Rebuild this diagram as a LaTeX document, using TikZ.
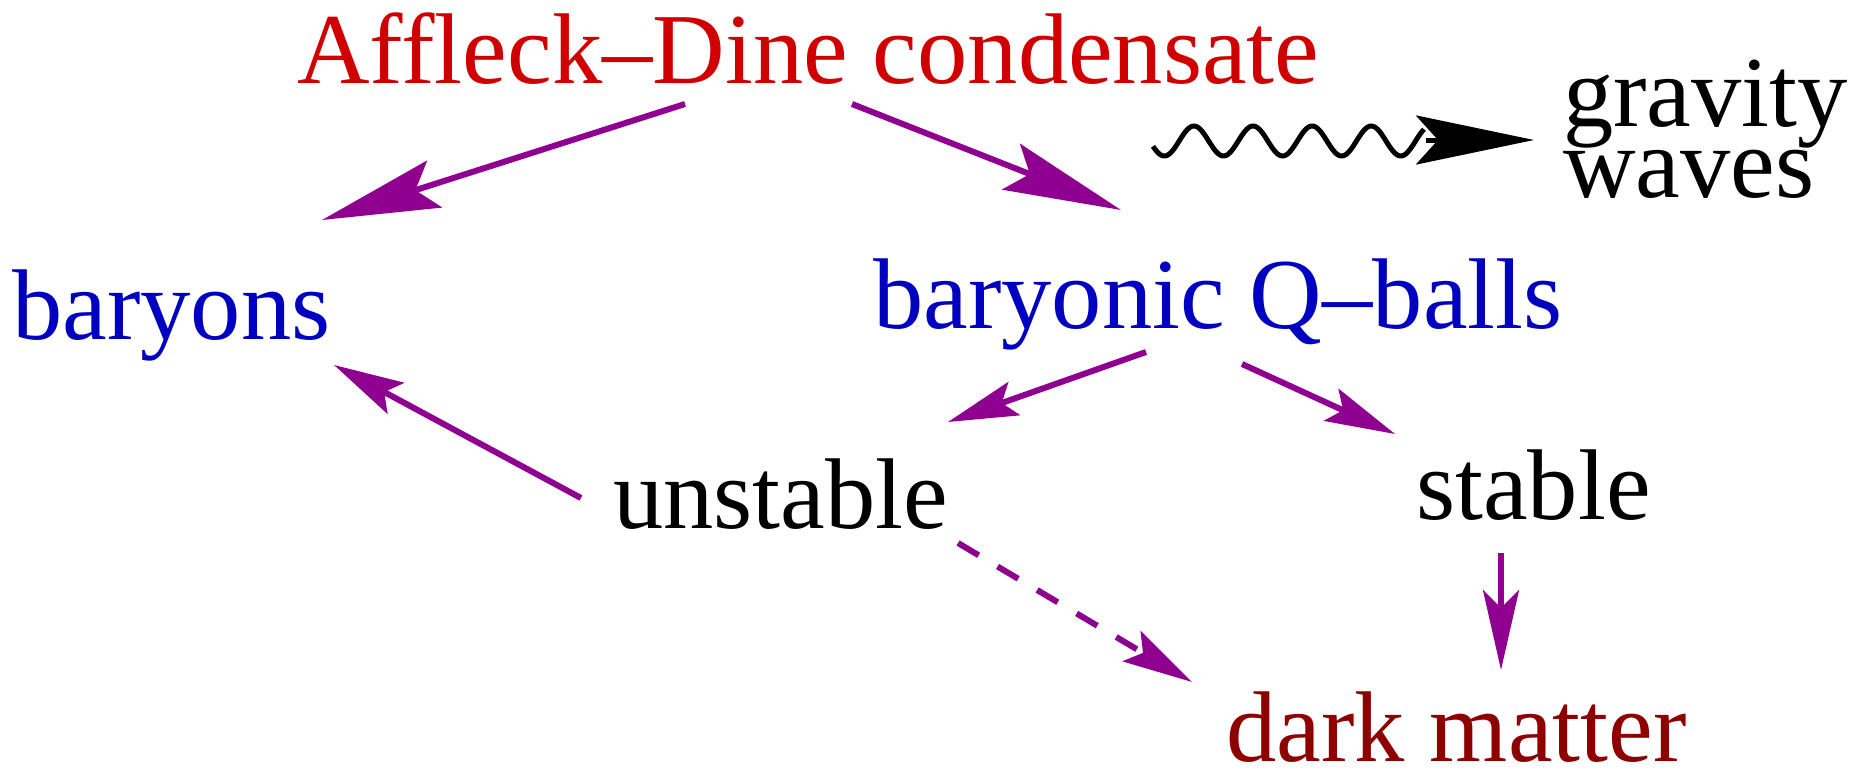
\documentclass[tikz,border=0pt]{standalone}
\usepackage{fontspec}
\setmainfont{Liberation Serif}
\usetikzlibrary{arrows.meta}
\definecolor{adred}{HTML}{D00000}
\definecolor{bblue}{HTML}{0000C0}
\definecolor{dmred}{HTML}{8E0000}
\definecolor{arrpurple}{HTML}{900090}
\begin{document}
\begin{tikzpicture}[x=1pt,y=-1pt,
  lbl/.style={anchor=base west, inner sep=0pt, font=\fontsize{100.5pt}{65pt}\selectfont},
  conn/.style={draw=arrpurple, line width=6pt},
  bighead/.style={-{Stealth[length=118pt,width=49pt,inset=20pt]}},
  smallhead/.style={-{Stealth[length=70pt,width=35pt,inset=13pt]}},
  vhead/.style={-{Stealth[length=80pt,width=36pt,inset=18pt]}},
  wave/.style={draw=black, line width=5pt},
  gwhead/.style={draw=black, line width=5pt, -{Stealth[length=118pt,width=49pt,inset=22pt]}}
]
\useasboundingbox (0,0) rectangle (1851,771);
\node[lbl, text=adred] (ad) at (297,83) {Affleck–Dine condensate};
\node[lbl, text=bblue] (bar) at (12,339) {baryons};
\node[lbl, text=bblue] (qb) at (873,328) {baryonic Q–balls};
\node[lbl] (uns) at (613,528) {unstable};
\node[lbl] (sta) at (1416,519) {stable};
\node[lbl, text=dmred] (dm) at (1226,761) {dark matter};
\node[lbl, align=left] (gw) at (1563,197) {gravity\\waves};

\draw[conn,bighead] ([shift={(388,21)}]ad.base west) -- ([shift={(310,-119)}]bar.base west);
\draw[conn,bighead] ([shift={(555,21)}]ad.base west) -- ([shift={(248,-118)}]qb.base west);
\draw[conn,smallhead] ([shift={(273,24)}]qb.base west) -- ([shift={(335,-106)}]uns.base west);
\draw[conn,smallhead] ([shift={(369,36)}]qb.base west) -- ([shift={(-21,-85)}]sta.base west);
\draw[conn,smallhead] ([shift={(-32,-30)}]uns.base west) -- ([shift={(322,26)}]bar.base west);
\draw[conn,smallhead,dash pattern=on 24pt off 22pt] ([shift={(345,15)}]uns.base west) -- ([shift={(-34,-79)}]dm.base west);
\draw[conn,vhead] ([shift={(85,34)}]sta.base west) -- ([shift={(275,-91)}]dm.base west);

\coordinate (ws) at (1153,146);
\coordinate (we) at (1426,140);
\draw[wave] plot[domain=1153:1424, samples=160, smooth] (\x,{141+15*sin(6.0914*(\x-1149.6))});
\draw[gwhead] (we) -- ([shift={(-29,-57)}]gw.base west);
\end{tikzpicture}
\end{document}
